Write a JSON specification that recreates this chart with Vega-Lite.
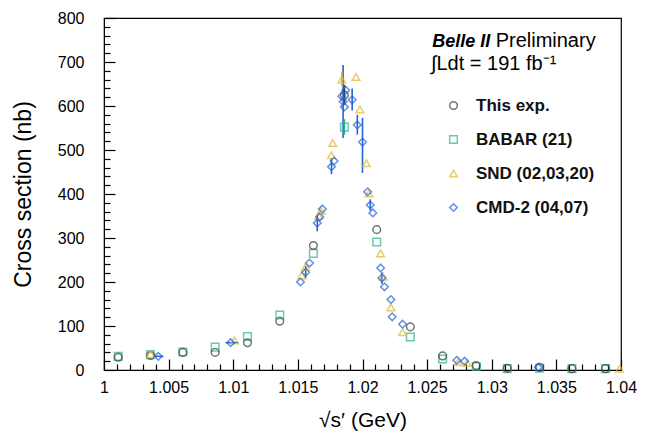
{
  "$schema": "https://vega.github.io/schema/vega-lite/v6.json",
  "width": 517,
  "height": 352,
  "autosize": {"type": "none"},
  "padding": {"left": 104, "top": 18, "right": 24, "bottom": 67},
  "background": "white",
  "config": {
    "view": {"stroke": "black", "strokeWidth": 1.2},
    "font": "Liberation Sans",
    "axis": {"labelOverlap": false, "labelFlush": false, "labelBound": false, "grid": false, "domainColor": "black", "tickColor": "black", "tickWidth": 1.2, "labelColor": "black", "titleColor": "black"}
  },
  "resolve": {"axis": {"x": "independent", "y": "independent"}},
  "datasets": {
    "pts": [
      {"s": "BABAR (21)", "x": 1.0011, "y": 31}, {"s": "BABAR (21)", "x": 1.0036, "y": 35}, {"s": "BABAR (21)", "x": 1.0061, "y": 41}, {"s": "BABAR (21)", "x": 1.0086, "y": 52}, {"s": "BABAR (21)", "x": 1.0111, "y": 76}, {"s": "BABAR (21)", "x": 1.0136, "y": 125}, {"s": "BABAR (21)", "x": 1.0162, "y": 265}, {"s": "BABAR (21)", "x": 1.0186, "y": 552}, {"s": "BABAR (21)", "x": 1.0211, "y": 291}, {"s": "BABAR (21)", "x": 1.0237, "y": 75}, {"s": "BABAR (21)", "x": 1.0262, "y": 25}, {"s": "BABAR (21)", "x": 1.0288, "y": 8}, {"s": "BABAR (21)", "x": 1.0312, "y": 3}, {"s": "BABAR (21)", "x": 1.0337, "y": 4}, {"s": "BABAR (21)", "x": 1.0362, "y": 3}, {"s": "BABAR (21)", "x": 1.0388, "y": 3},
      {"s": "This exp.", "x": 1.0011, "y": 29}, {"s": "This exp.", "x": 1.0036, "y": 33}, {"s": "This exp.", "x": 1.0061, "y": 40}, {"s": "This exp.", "x": 1.0086, "y": 40}, {"s": "This exp.", "x": 1.0111, "y": 62}, {"s": "This exp.", "x": 1.0136, "y": 111}, {"s": "This exp.", "x": 1.0162, "y": 283}, {"s": "This exp.", "x": 1.0186, "y": 625}, {"s": "This exp.", "x": 1.0211, "y": 319}, {"s": "This exp.", "x": 1.0237, "y": 98}, {"s": "This exp.", "x": 1.0262, "y": 32}, {"s": "This exp.", "x": 1.0288, "y": 10}, {"s": "This exp.", "x": 1.0312, "y": 4}, {"s": "This exp.", "x": 1.0337, "y": 6}, {"s": "This exp.", "x": 1.0362, "y": 3}, {"s": "This exp.", "x": 1.0388, "y": 3},
      {"s": "SND (02,03,20)", "x": 1.0036, "y": 36}, {"s": "SND (02,03,20)", "x": 1.0101, "y": 67}, {"s": "SND (02,03,20)", "x": 1.0153, "y": 215}, {"s": "SND (02,03,20)", "x": 1.0156, "y": 234}, {"s": "SND (02,03,20)", "x": 1.0166, "y": 350}, {"s": "SND (02,03,20)", "x": 1.0168, "y": 362}, {"s": "SND (02,03,20)", "x": 1.0176, "y": 488}, {"s": "SND (02,03,20)", "x": 1.0177, "y": 516}, {"s": "SND (02,03,20)", "x": 1.0184, "y": 660}, {"s": "SND (02,03,20)", "x": 1.0195, "y": 666}, {"s": "SND (02,03,20)", "x": 1.0198, "y": 592}, {"s": "SND (02,03,20)", "x": 1.0203, "y": 470}, {"s": "SND (02,03,20)", "x": 1.0205, "y": 401}, {"s": "SND (02,03,20)", "x": 1.0214, "y": 265}, {"s": "SND (02,03,20)", "x": 1.0216, "y": 212}, {"s": "SND (02,03,20)", "x": 1.0222, "y": 142}, {"s": "SND (02,03,20)", "x": 1.0231, "y": 86}, {"s": "SND (02,03,20)", "x": 1.0274, "y": 18}, {"s": "SND (02,03,20)", "x": 1.0281, "y": 16}, {"s": "SND (02,03,20)", "x": 1.0399, "y": 3},
      {"s": "CMD-2 (04,07)", "x": 1.0042, "y": 31}, {"s": "CMD-2 (04,07)", "x": 1.0098, "y": 62}, {"s": "CMD-2 (04,07)", "x": 1.0152, "y": 200}, {"s": "CMD-2 (04,07)", "x": 1.0156, "y": 222}, {"s": "CMD-2 (04,07)", "x": 1.0159, "y": 243}, {"s": "CMD-2 (04,07)", "x": 1.0165, "y": 334}, {"s": "CMD-2 (04,07)", "x": 1.0167, "y": 348}, {"s": "CMD-2 (04,07)", "x": 1.0169, "y": 366}, {"s": "CMD-2 (04,07)", "x": 1.0176, "y": 462}, {"s": "CMD-2 (04,07)", "x": 1.0178, "y": 475}, {"s": "CMD-2 (04,07)", "x": 1.0184, "y": 622}, {"s": "CMD-2 (04,07)", "x": 1.0185, "y": 610}, {"s": "CMD-2 (04,07)", "x": 1.0186, "y": 598}, {"s": "CMD-2 (04,07)", "x": 1.0187, "y": 636}, {"s": "CMD-2 (04,07)", "x": 1.0192, "y": 614}, {"s": "CMD-2 (04,07)", "x": 1.0196, "y": 557}, {"s": "CMD-2 (04,07)", "x": 1.02, "y": 518}, {"s": "CMD-2 (04,07)", "x": 1.0204, "y": 405}, {"s": "CMD-2 (04,07)", "x": 1.0206, "y": 375}, {"s": "CMD-2 (04,07)", "x": 1.0208, "y": 357}, {"s": "CMD-2 (04,07)", "x": 1.0214, "y": 232}, {"s": "CMD-2 (04,07)", "x": 1.0215, "y": 209}, {"s": "CMD-2 (04,07)", "x": 1.0217, "y": 189}, {"s": "CMD-2 (04,07)", "x": 1.0222, "y": 160}, {"s": "CMD-2 (04,07)", "x": 1.0223, "y": 121}, {"s": "CMD-2 (04,07)", "x": 1.0231, "y": 104}, {"s": "CMD-2 (04,07)", "x": 1.0273, "y": 22}, {"s": "CMD-2 (04,07)", "x": 1.0279, "y": 20}, {"s": "CMD-2 (04,07)", "x": 1.0336, "y": 6}
    ],
    "err": [
      {"s": "CMD-2 (04,07)", "x": 1.0185, "lo": 527, "hi": 693},
      {"s": "CMD-2 (04,07)", "x": 1.02, "lo": 448, "hi": 573},
      {"s": "CMD-2 (04,07)", "x": 1.0176, "lo": 445, "hi": 480},
      {"s": "CMD-2 (04,07)", "x": 1.0165, "lo": 315, "hi": 352},
      {"s": "CMD-2 (04,07)", "x": 1.0192, "lo": 590, "hi": 640},
      {"s": "CMD-2 (04,07)", "x": 1.0196, "lo": 535, "hi": 580},
      {"s": "CMD-2 (04,07)", "x": 1.0156, "lo": 208, "hi": 236},
      {"s": "CMD-2 (04,07)", "x": 1.0215, "lo": 196, "hi": 222},
      {"s": "CMD-2 (04,07)", "x": 1.0206, "lo": 362, "hi": 388},
      {"s": "This exp.", "x": 1.0186, "lo": 602, "hi": 648},
      {"s": "SND (02,03,20)", "x": 1.0184, "lo": 645, "hi": 678},
      {"s": "BABAR (21)", "x": 1.0186, "lo": 535, "hi": 570}
    ],
    "xerr": [
      {"s": "CMD-2 (04,07)", "x": 1.0038, "x2": 1.0046, "y": 31},
      {"s": "CMD-2 (04,07)", "x": 1.0094, "x2": 1.0104, "y": 62}
    ]
  },
  "layer": [
    {
      "data": {"name": "err"},
      "mark": {"type": "rule", "strokeWidth": 1.6},
      "encoding": {
        "x": {
          "field": "x", "type": "quantitative",
          "scale": {"domain": [1, 1.04], "nice": false, "zero": false},
          "axis": {
            "orient": "bottom", "title": null, "labels": false, "domain": false, "tickSize": -6,
            "values": [1.001, 1.002, 1.003, 1.004, 1.006, 1.007, 1.008, 1.009, 1.011, 1.012, 1.013, 1.014, 1.016, 1.017, 1.018, 1.019, 1.021, 1.022, 1.023, 1.024, 1.026, 1.027, 1.028, 1.029, 1.031, 1.032, 1.033, 1.034, 1.036, 1.037, 1.038, 1.039]
          }
        },
        "y": {
          "field": "lo", "type": "quantitative",
          "scale": {"domain": [0, 800], "nice": false},
          "axis": {
            "orient": "left", "title": null, "labels": false, "domain": false, "tickSize": -6,
            "values": [20, 40, 60, 80, 120, 140, 160, 180, 220, 240, 260, 280, 320, 340, 360, 380, 420, 440, 460, 480, 520, 540, 560, 580, 620, 640, 660, 680, 720, 740, 760, 780]
          }
        },
        "y2": {"field": "hi"},
        "color": {"field": "s", "type": "nominal"}
      }
    },
    {
      "data": {"name": "xerr"},
      "mark": {"type": "rule", "strokeWidth": 1.6},
      "encoding": {
        "x": {"field": "x", "type": "quantitative", "axis": null},
        "x2": {"field": "x2"},
        "y": {"field": "y", "type": "quantitative", "axis": null},
        "color": {"field": "s", "type": "nominal"}
      }
    },
    {
      "data": {"name": "pts"},
      "mark": {"type": "point", "filled": false, "strokeWidth": 1.5, "size": 58},
      "encoding": {
        "x": {
          "field": "x", "type": "quantitative",
          "axis": {
            "orient": "bottom",
            "title": "√s′ (GeV)",
            "titleFontSize": 21, "titleFontWeight": "normal", "titlePadding": 14,
            "labelFontSize": 16, "labelPadding": 20, "tickSize": -11,
            "values": [1, 1.005, 1.01, 1.015, 1.02, 1.025, 1.03, 1.035, 1.04],
            "format": "~g"
          }
        },
        "y": {
          "field": "y", "type": "quantitative",
          "axis": {
            "orient": "left",
            "title": "Cross section (nb)",
            "titleFontSize": 23, "titleFontWeight": "normal", "titlePadding": 22,
            "labelFontSize": 16, "labelPadding": 31, "tickSize": -11,
            "values": [0, 100, 200, 300, 400, 500, 600, 700, 800]
          }
        },
        "color": {
          "field": "s", "type": "nominal",
          "scale": {
            "domain": ["This exp.", "BABAR (21)", "SND (02,03,20)", "CMD-2 (04,07)"],
            "range": ["#3a3a3a", "#2ab58c", "#e6b42c", "#2563d8"]
          },
          "legend": {
            "title": null, "orient": "none", "legendX": 341, "legendY": 79,
            "labelFontSize": 17, "labelFontWeight": "bold", "labelColor": "#111111",
            "symbolSize": 58, "symbolStrokeWidth": 1.5, "rowPadding": 16, "labelOffset": 14
          }
        },
        "shape": {
          "field": "s", "type": "nominal",
          "scale": {
            "domain": ["This exp.", "BABAR (21)", "SND (02,03,20)", "CMD-2 (04,07)"],
            "range": ["circle", "square", "triangle-up", "diamond"]
          }
        }
      }
    },
    {
      "data": {"values": [{}]},
      "mark": {"type": "text", "text": "Belle II", "fontSize": 18, "fontWeight": "bold", "fontStyle": "italic", "align": "left", "baseline": "alphabetic", "color": "black"},
      "encoding": {"x": {"datum": 1.0254, "type": "quantitative", "axis": null}, "y": {"datum": 735, "type": "quantitative", "axis": null}}
    },
    {
      "data": {"values": [{}]},
      "mark": {"type": "text", "text": "Preliminary", "fontSize": 20, "align": "left", "baseline": "alphabetic", "color": "black"},
      "encoding": {"x": {"datum": 1.0303, "type": "quantitative", "axis": null}, "y": {"datum": 735, "type": "quantitative", "axis": null}}
    },
    {
      "data": {"values": [{}]},
      "mark": {"type": "text", "text": "∫Ldt = 191 fb⁻¹", "fontSize": 20, "align": "left", "baseline": "alphabetic", "color": "black"},
      "encoding": {"x": {"datum": 1.0253, "type": "quantitative", "axis": null}, "y": {"datum": 681, "type": "quantitative", "axis": null}}
    }
  ]
}
